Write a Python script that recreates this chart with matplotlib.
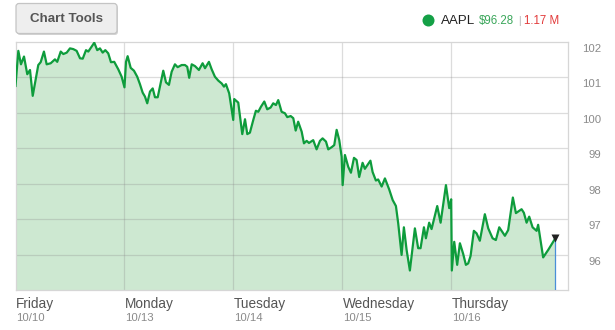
import matplotlib
matplotlib.use("Agg")
import matplotlib.pyplot as plt
from matplotlib.patches import FancyBboxPatch, Circle
from matplotlib.transforms import offset_copy, blended_transform_factory

plt.rcParams['font.family'] = ['Liberation Sans', 'DejaVu Sans']

# ---- data ----
times = [0.0, 0.026, 0.05, 0.078, 0.108, 0.133, 0.158, 0.209, 0.231, 0.261, 0.286, 0.323, 0.362, 0.383,
         0.415, 0.439, 0.47, 0.5, 0.53, 0.561, 0.592, 0.617, 0.647, 0.668, 0.699, 0.723, 0.75, 0.775,
         0.8, 0.824, 0.851, 0.876, 0.906, 0.943, 0.974, 1.0,
         1.014, 1.029, 1.057, 1.087, 1.117, 1.142, 1.167, 1.188, 1.209, 1.234, 1.259, 1.28, 1.305, 1.332,
         1.356, 1.381, 1.408, 1.433, 1.463, 1.488, 1.525, 1.555, 1.576, 1.594, 1.617, 1.647, 1.683, 1.717,
         1.739, 1.775, 1.8, 1.83, 1.861, 1.892, 1.913, 1.931, 1.961, 1.998,
         2.007, 2.044, 2.081, 2.106, 2.127, 2.151, 2.182, 2.206, 2.228, 2.252, 2.283, 2.31, 2.341, 2.365,
         2.39, 2.411, 2.442, 2.472, 2.494, 2.525, 2.549, 2.571, 2.594, 2.626, 2.647, 2.672, 2.693, 2.732,
         2.763, 2.794, 2.818, 2.849, 2.87, 2.901, 2.925, 2.947, 2.971, 2.993, 3.002,
         3.023, 3.053, 3.078, 3.106, 3.13, 3.154, 3.185, 3.206, 3.257, 3.277, 3.307, 3.328, 3.36, 3.39,
         3.429, 3.461, 3.491, 3.512, 3.543, 3.564, 3.589, 3.619, 3.665, 3.695, 3.717, 3.748, 3.766, 3.796,
         3.818, 3.87, 3.901, 3.95, 3.98, 3.998, 4.004,
         4.026, 4.053, 4.078, 4.108, 4.133, 4.154, 4.176, 4.206, 4.231, 4.261, 4.307, 4.338, 4.378, 4.408,
         4.439, 4.47, 4.491, 4.521, 4.564, 4.592, 4.644, 4.665, 4.69, 4.714, 4.745, 4.782, 4.796, 4.842,
         4.888, 4.95]

prices = [100.76, 101.75, 101.37, 101.59, 101.09, 101.21, 100.48, 101.35, 101.43, 101.73, 101.37, 101.40,
          101.51, 101.44, 101.73, 101.66, 101.70, 101.82, 101.80, 101.75, 101.54, 101.53, 101.77, 101.73,
          101.87, 101.98, 101.77, 101.82, 101.70, 101.77, 101.68, 101.43, 101.44, 101.23, 101.02, 100.72,
          101.44, 101.60, 101.27, 101.19, 101.02, 100.81, 100.57, 100.46, 100.27, 100.60, 100.69, 100.44,
          100.44, 100.83, 101.19, 100.86, 100.79, 101.16, 101.37, 101.29, 101.35, 101.35, 101.30, 100.99,
          101.37, 101.32, 101.21, 101.40, 101.26, 101.44, 101.23, 101.02, 100.91, 100.83, 100.74, 100.81,
          100.55, 99.80,
          100.39, 100.29, 99.40, 99.82, 99.40, 99.44, 99.80, 100.06, 100.03, 100.17, 100.32, 100.10, 100.15,
          100.27, 100.22, 100.36, 100.03, 99.99, 99.88, 99.91, 99.85, 99.50, 99.75, 99.47, 99.14, 99.21,
          99.15, 99.23, 98.97, 99.21, 99.28, 99.19, 98.97, 99.03, 99.09, 99.52, 99.23, 98.76, 97.96,
          98.81, 98.48, 98.31, 98.73, 98.67, 98.19, 98.59, 98.42, 98.65, 98.33, 98.09, 98.12, 97.92, 98.15,
          97.84, 97.54, 97.37, 96.88, 95.99, 96.77, 96.13, 95.55, 96.74, 96.18, 96.18, 96.77, 96.46, 96.90,
          96.72, 97.37, 96.90, 97.96, 97.31, 97.56, 95.55,
          96.36, 95.71, 96.32, 96.02, 95.71, 95.75, 95.96, 96.67, 96.60, 96.39, 97.14, 96.74, 96.46, 96.41,
          96.77, 96.63, 96.53, 96.69, 97.61, 97.17, 97.28, 97.18, 96.90, 97.07, 96.77, 96.67, 96.84, 95.92,
          96.13, 96.44]

day_names = ["Friday", "Monday", "Tuesday", "Wednesday", "Thursday"]
day_dates = ["10/10", "10/13", "10/14", "10/15", "10/16"]
y_labels = [102, 101, 100, 99, 98, 97, 96]
y_grid = [96, 97, 98, 99, 100, 101]
ymin, ymax = 95, 102

ticker = "AAPL"
last_price = "$96.28"
volume = "1.17 M"

# ---- figure ----
W, H = 615, 330
fig = plt.figure(figsize=(W / 100, H / 100), dpi=100)
fig.patch.set_facecolor("white")

ax = fig.add_axes([15.5 / W, 40 / H, 552.5 / W, 248 / H])
ax.set_xlim(0, 5.07)
ax.set_ylim(ymin, ymax)

line_col = "#0e9c3c"
fill_col = "#cde8d1"
ax.fill_between(times, prices, ymin, color=fill_col, lw=0, zorder=1)

# grid above fill
for v in y_grid:
    ax.axhline(v, color="#8c8c8c", alpha=0.3, lw=0.9, zorder=2)
for d in range(1, len(day_names)):
    ax.axvline(d, color="#8c8c8c", alpha=0.3, lw=0.9, zorder=2)

ax.plot(times, prices, color=line_col, lw=1.6, zorder=3, solid_joinstyle="round")

# last point marker and guide line
ax.plot([times[-1], times[-1]], [ymin, prices[-1]], color="#4a8fd8", lw=0.9, zorder=3)
ax.plot(times[-1], prices[-1] + 0.02, marker="v", ms=6, color="#222222", zorder=4, mec="none")

ax.set_xticks([])
ax.set_yticks([])
for s in ax.spines.values():
    s.set_color("#d6d6d6")
    s.set_linewidth(0.9)

# y labels (below gridlines, right side)
tr = offset_copy(blended_transform_factory(fig.transFigure, ax.transData), fig=fig, x=0, y=-7, units="dots")
for v in y_labels:
    ax.text(601 / W, v, str(v), transform=tr, ha="right", va="center",
            fontsize=8.2, color="#8a8a8a")

# x labels
xtr = blended_transform_factory(ax.transData, fig.transFigure)
for i, (nm, dt) in enumerate(zip(day_names, day_dates)):
    ax.text(i + 0.003, 1 - 304 / H, nm, transform=xtr, ha="left", va="center",
            fontsize=9.8, color="#555555", clip_on=False)
    ax.text(i + 0.003, 1 - 318 / H, dt, transform=xtr, ha="left", va="center",
            fontsize=8.2, color="#8a8a8a", clip_on=False)

# ---- header overlay ----
ov = fig.add_axes([0, 0, 1, 1], zorder=-1)
ov.set_xlim(0, W)
ov.set_ylim(H, 0)
ov.axis("off")
ov.add_patch(FancyBboxPatch((17, 5), 101, 30, boxstyle="round,pad=0,rounding_size=3",
                            fc="#d4d4d4", ec="none"))
ov.add_patch(FancyBboxPatch((16, 3.5), 101, 30, boxstyle="round,pad=0,rounding_size=3",
                            fc="#eeeeee", ec="#c4c4c4", lw=0.9))
ov.text(66.5, 18.5, "Chart Tools", ha="center", va="center", fontsize=9.6,
        fontweight="bold", color="#555555")

ov.add_patch(Circle((428.5, 20.5), 6, fc="#14a046", ec="none"))
ov.text(441, 21, ticker, ha="left", va="center", fontsize=9.6, color="#222222")
ov.text(479, 21, last_price, ha="left", va="center", fontsize=8.3, color="#3aa65a")
ov.text(519.5, 21, "|", ha="center", va="center", fontsize=7, color="#aaaaaa")
ov.text(524, 21, volume, ha="left", va="center", fontsize=8.3, color="#e23b3b")

fig.savefig("out.png", dpi=100)
